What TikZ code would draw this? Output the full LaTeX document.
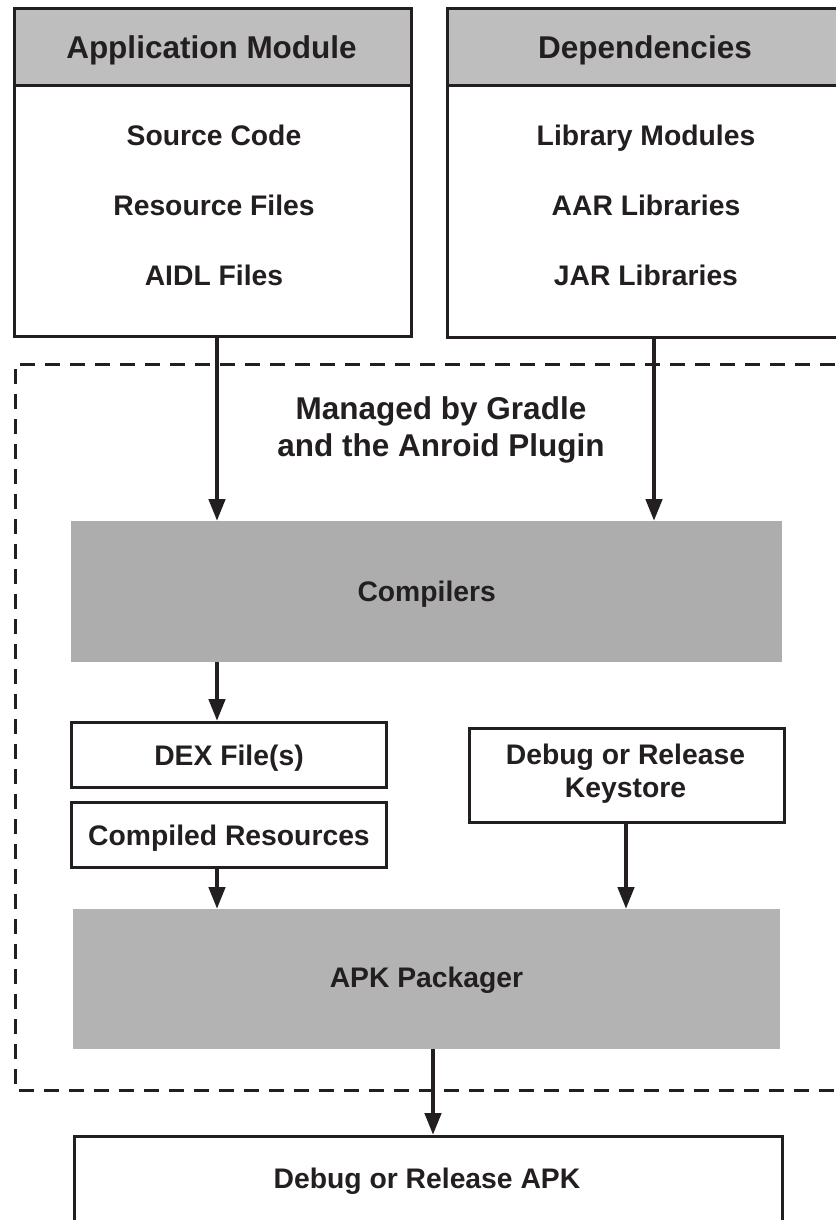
\documentclass[tikz,border=0pt]{standalone}
\usepackage{fontspec}
\setmainfont{Liberation Sans}
\usetikzlibrary{arrows.meta}
\definecolor{ink}{HTML}{231F20}
\definecolor{hdrgray}{HTML}{BEBEBE}
\definecolor{compgray}{HTML}{ADADAD}
\definecolor{pkggray}{HTML}{B3B3B3}
\tikzset{
  bodyfont/.style={font=\bfseries\fontsize{28.3}{33}\selectfont, text=ink},
  bigfont/.style={font=\bfseries\fontsize{31.5}{37}\selectfont, text=ink},
  body/.style={bodyfont, text height=20.3pt, text depth=0pt},
  big/.style={bigfont, text height=22.6pt, text depth=0pt},
  outbox/.style={draw=ink, line width=3pt, fill=white, inner sep=0pt},
  hdrbox/.style={draw=ink, line width=3pt, fill=hdrgray, inner sep=0pt},
  graybox/.style={draw=none, inner sep=0pt},
  arr/.style={draw=ink, line width=4.5pt, -{Triangle[width=16pt,length=22pt]}},
  dashbox/.style={draw=ink, line width=3pt, dash pattern=on 15pt off 10pt},
}
\begin{document}
\begin{tikzpicture}[x=1pt,y=-1pt]
\useasboundingbox (0,0) rectangle (835,1220);
\fill[white] (0,0) rectangle (835,1220);
% dashed region
\draw[dashbox] (860,364) -- (15,364) -- (15,1090) -- (860,1090);
% Application module
\node[outbox, minimum width=397pt, minimum height=251pt, anchor=north west] (appbody) at (13,84) {};
\node[hdrbox, minimum width=397pt, minimum height=77pt, anchor=north west] (apphdr) at (13,7) {};
\node[big] (apphdrtxt) at (211.5,47) {Application Module};
\node[body] (src) at (214,135) {Source Code};
\node[body] (res) at (214,205) {Resource Files};
\node[body] (aidl) at (214,275) {AIDL Files};
% Dependencies
\node[outbox, minimum width=399pt, minimum height=252pt, anchor=north west] (depbody) at (446,84) {};
\node[hdrbox, minimum width=399pt, minimum height=77pt, anchor=north west] (dephdr) at (446,7) {};
\node[big] (dephdrtxt) at (645,47) {Dependencies};
\node[body] (libm) at (646,135) {Library Modules};
\node[body] (aar) at (646,205) {AAR Libraries};
\node[body] (jar) at (646,275) {JAR Libraries};
% managed label
\node[bigfont, align=center] (managed) at (441,430) {Managed by Gradle\\and the Anroid Plugin};
% compilers
\node[graybox, fill=compgray, minimum width=711pt, minimum height=141pt, anchor=north west] (comp) at (71,521) {};
\node[body] (comptxt) at (comp.center) {Compilers};
% dex & resources
\node[outbox, minimum width=315pt, minimum height=65pt, anchor=north west] (dex) at (70,721) {};
\node[body] (dextxt) at (dex.center) {DEX File(s)};
\node[outbox, minimum width=315pt, minimum height=65pt, anchor=north west] (cres) at (70,801) {};
\node[body] (crestxt) at (cres.center) {Compiled Resources};
% keystore
\node[outbox, minimum width=315pt, minimum height=94pt, anchor=north west] (key) at (468,727) {};
\node[bodyfont, align=center] (keytxt) at (625.5,774) {Debug or Release\\Keystore};
% apk packager
\node[graybox, fill=pkggray, minimum width=707pt, minimum height=140pt, anchor=north west] (pkg) at (73,909) {};
\node[body] (pkgtxt) at (426.5,977) {APK Packager};
% final apk
\node[outbox, minimum width=708pt, minimum height=120pt, anchor=north west] (apk) at (73,1135) {};
\node[body] (apktxt) at (427,1178) {Debug or Release APK};
% arrows
\coordinate (c1) at (217,0);
\coordinate (c2) at (654,0);
\coordinate (c3) at (626,0);
\coordinate (c4) at (433,0);
\draw[arr] (appbody.south -| c1) -- (comp.north -| c1);
\draw[arr] (depbody.south -| c2) -- (comp.north -| c2);
\draw[arr] (comp.south -| c1) -- (dex.north -| c1);
\draw[arr] (cres.south -| c1) -- (pkg.north -| c1);
\draw[arr] (key.south -| c3) -- (pkg.north -| c3);
\draw[arr] (pkg.south -| c4) -- (apk.north -| c4);
\end{tikzpicture}
\end{document}
